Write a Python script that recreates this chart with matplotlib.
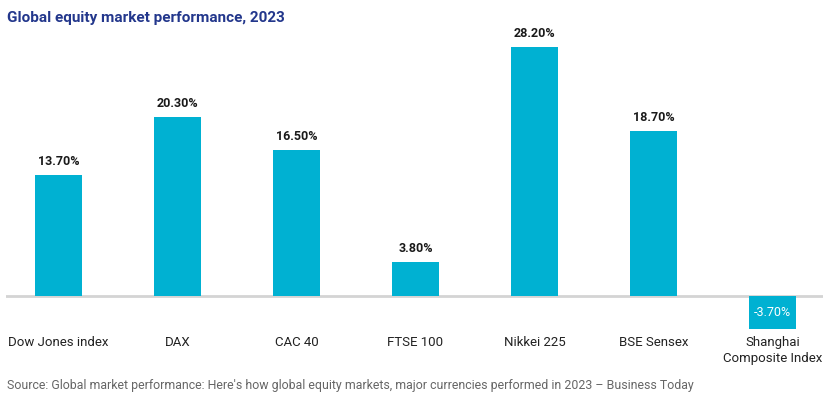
import matplotlib
matplotlib.use("Agg")
import matplotlib.pyplot as plt

plt.rcParams['font.family'] = ['Roboto', 'DejaVu Sans']

# Data
indices = ['Dow Jones index', 'DAX', 'CAC 40', 'FTSE 100', 'Nikkei 225',
           'BSE Sensex', 'Shanghai\nComposite Index']
returns = [13.7, 20.3, 16.5, 3.8, 28.2, 18.7, -3.7]

bar_color = '#00B1D2'

fig = plt.figure(figsize=(8.30, 3.97), dpi=100)
ax = fig.add_axes([6 / 830, (397 - 335) / 397, (823 - 6) / 830, (335 - 40) / 397])

x = range(len(indices))
bars = ax.bar(x, returns, width=0.4, color=bar_color, zorder=2)

ax.axhline(0, color='#d4d4d4', linewidth=2, zorder=1)

for xi, v in zip(x, returns):
    label = f'{v:.2f}%'
    if v >= 0:
        ax.annotate(label, (xi, v), xytext=(0, 5), textcoords='offset points',
                    ha='center', va='bottom', fontsize=9, fontweight='bold',
                    color='#1a1a1a')
    else:
        ax.annotate(label, (xi, v / 2), ha='center', va='center',
                    fontsize=9, color='white')

ax.set_xlim(-0.441, 6.424)
ax.set_ylim(-4.42, 29.0)
ax.set_xticks(list(x))
ax.set_xticklabels(indices, fontsize=9.5, color='#222222', va='top',
                   linespacing=1.3)
ax.tick_params(axis='x', length=0, pad=1)
ax.set_yticks([])
for s in ax.spines.values():
    s.set_visible(False)

fig.text(7 / 830, 1 - 18 / 397, 'Global equity market performance, 2023',
         fontsize=11, fontweight='bold', color='#23378C', va='center', ha='left')
fig.text(7 / 830, 1 - 385 / 397,
         "Source: Global market performance: Here's how global equity markets, "
         "major currencies performed in 2023 \u2013 Business Today",
         fontsize=8.9, color='#666666', va='center', ha='left')

fig.savefig('out.png', dpi=100)
